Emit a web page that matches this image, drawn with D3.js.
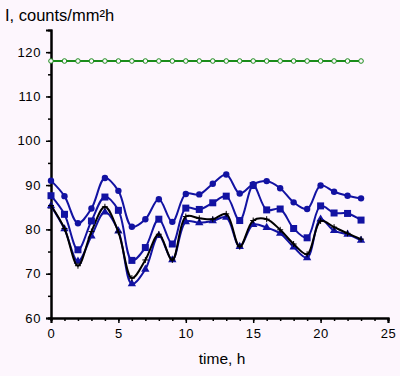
<!DOCTYPE html>
<html>
<head>
<meta charset="utf-8">
<script src="https://cdn.jsdelivr.net/npm/d3@7"></script>
<style>
  body { margin: 0; background: #fdf6fd; }
  text { font-family: "Liberation Sans", Arial, sans-serif; }
</style>
</head>
<body>
<div id="container"></div>
<script>
let w = 400;
let h = 376;

// hours 0..23
let hours = d3.range(0, 24);
let greenVals = [118,118,118,118,118,118,118,118,118,118,118,118,118,118,118,118,118,118,118,118,118,118,118,118];
let circleVals = [91,87.5,81.4,84.7,91.6,88.7,80.6,82.3,86.8,81.7,88,87.9,90.3,92.4,88.1,90.2,90.9,89.3,86.1,84.6,89.9,88.5,87.6,87];
let squareVals = [87.6,83.4,75.4,81.9,87.3,84.3,73,75.9,82.3,76.7,84.8,84.5,86,87.5,82,89.9,84.4,84.6,80.2,78.1,85.3,83.7,83.6,82.1];
let triangleVals = [85.3,80.1,72.8,78.5,83.9,79.6,67.7,71,78.6,73.1,81.7,81.5,81.9,82.7,76.1,81.1,80.4,79.1,76,73.6,82.3,79.7,78.9,77.5];
let crossVals = [85.4,80.2,71.8,79.5,85.1,79.4,69,73.1,78.9,73.1,82.9,82.5,82.3,83.5,76.1,82,82.3,79.9,76.7,74.4,81.9,80.5,79.1,77.8];

let xTicks = [0, 5, 10, 15, 20, 25];
let yTicks = [60, 70, 80, 90, 100, 110, 120];

let blue = "#1212a2";
let green = "#1a8c1a";

let viz = d3.select("#container").append("svg")
  .attr("width", w)
  .attr("height", h)
  .style("background-color", "#fdf6fd");

let x = d3.scaleLinear().domain([0, 25]).range([51, 388]);
let y = d3.scaleLinear().domain([60, 125]).range([318, 30]);

// axes
let xAxis = d3.axisBottom(x).tickValues(xTicks).tickSize(5).tickPadding(6);
let xMinor = d3.axisBottom(x).tickValues(d3.range(0, 26)).tickSize(3).tickFormat("");
let yAxis = d3.axisLeft(y).tickValues(yTicks).tickSize(5).tickPadding(5);
let yMinor = d3.axisLeft(y).tickValues(d3.range(60, 125, 5)).tickSize(3).tickFormat("");

function styleAxis(g) {
  g.select(".domain").attr("stroke", "black").attr("stroke-width", 2);
  g.selectAll(".tick line").attr("stroke", "black").attr("stroke-width", 1.5);
  g.selectAll(".tick text").attr("font-size", 13).attr("fill", "black")
    .attr("letter-spacing", 0.6)
    .attr("font-family", "'Liberation Sans', Arial, sans-serif");
}

viz.append("g").attr("transform", "translate(0,318)").call(xMinor).call(styleAxis);
viz.append("g").attr("transform", "translate(0,318)").call(xAxis).call(styleAxis);
viz.append("g").attr("transform", "translate(51,0)").call(yMinor).call(styleAxis);
viz.append("g").attr("transform", "translate(51,0)").call(yAxis).call(styleAxis);

viz.append("text")
  .text("time, h")
  .attr("x", 222)
  .attr("y", 364)
  .attr("text-anchor", "middle")
  .attr("font-size", 15.5)
  .attr("fill", "black");

viz.append("text")
  .text("I, counts/mm²h")
  .attr("x", 5)
  .attr("y", 21)
  .attr("font-size", 16.5)
  .attr("fill", "black");

let line = d3.line()
  .x((d, i) => x(hours[i]))
  .y(d => y(d))
  .curve(d3.curveCatmullRom.alpha(0.5));

// green constant line
viz.append("path").attr("d", line(greenVals))
  .attr("fill", "none").attr("stroke", green).attr("stroke-width", 2);
viz.selectAll(".gdot").data(greenVals).enter().append("circle")
  .attr("class", "gdot")
  .attr("cx", (d, i) => x(hours[i]))
  .attr("cy", d => y(d))
  .attr("r", 2.3)
  .attr("fill", "#fdf6fd")
  .attr("stroke", green)
  .attr("stroke-width", 1);

// triangles
viz.append("path").attr("d", line(triangleVals))
  .attr("fill", "none").attr("stroke", blue).attr("stroke-width", 2);
viz.selectAll(".tri").data(triangleVals).enter().append("path")
  .attr("class", "tri")
  .attr("d", d3.symbol().type(d3.symbolTriangle).size(30))
  .attr("transform", (d, i) => "translate(" + x(hours[i]) + "," + y(d) + ")")
  .attr("fill", blue);

// black crosses
viz.append("path").attr("d", line(crossVals))
  .attr("fill", "none").attr("stroke", "black").attr("stroke-width", 2);
viz.selectAll(".cross").data(crossVals).enter().append("path")
  .attr("class", "cross")
  .attr("d", "M-3,0H3M0,-3V3")
  .attr("transform", (d, i) => "translate(" + x(hours[i]) + "," + y(d) + ")")
  .attr("stroke", "black")
  .attr("stroke-width", 1);

// squares
viz.append("path").attr("d", line(squareVals))
  .attr("fill", "none").attr("stroke", blue).attr("stroke-width", 2);
viz.selectAll(".sq").data(squareVals).enter().append("rect")
  .attr("class", "sq")
  .attr("x", (d, i) => x(hours[i]) - 3.5)
  .attr("y", d => y(d) - 3.5)
  .attr("width", 7)
  .attr("height", 7)
  .attr("fill", blue);

// circles
viz.append("path").attr("d", line(circleVals))
  .attr("fill", "none").attr("stroke", blue).attr("stroke-width", 2);
viz.selectAll(".cdot").data(circleVals).enter().append("circle")
  .attr("class", "cdot")
  .attr("cx", (d, i) => x(hours[i]))
  .attr("cy", d => y(d))
  .attr("r", 3.2)
  .attr("fill", blue);
</script>
</body>
</html>
